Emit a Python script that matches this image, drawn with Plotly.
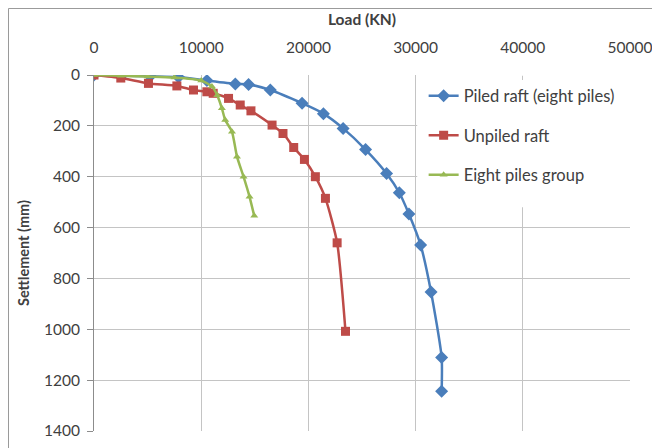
import plotly.graph_objects as go

# Data (Load in kN, Settlement in mm)
piled_load = [0, 2590, 5230, 7880, 10530, 13180, 14420, 16450, 19410, 21400, 23240, 25330, 27290, 28480, 29380, 30470, 31440, 32430, 32430]
piled_settle = [0, 2, 5, 8, 22, 35, 37, 59, 111, 152, 210, 293, 387, 463, 547, 669, 853, 1111, 1244]

unpiled_load = [0, 2500, 5080, 7730, 9280, 10530, 11120, 12550, 13640, 14640, 16610, 17630, 18630, 19630, 20650, 21590, 22680, 23460]
unpiled_settle = [0, 12, 33, 43, 59, 66, 72, 92, 118, 141, 197, 230, 285, 332, 400, 485, 660, 1008]

group_load = [0, 2500, 5000, 7500, 10000, 11000, 11500, 11930, 12240, 12870, 13340, 13950, 14510, 14950]
group_settle = [0, 3, 6, 10, 22, 45, 80, 131, 177, 223, 321, 400, 479, 554]

names = ["Piled raft (eight piles)", "Unpiled raft", "Eight piles group"]
colors = ["#4A7EBB", "#BE4B48", "#98B954"]
symbols = ["diamond", "square", "triangle-up"]
sizes = [10, 9, 7]

x_ticks = [0, 10000, 20000, 30000, 40000, 50000]
y_ticks = [0, 200, 400, 600, 800, 1000, 1200, 1400]

fig = go.Figure()
series = [(piled_load, piled_settle), (unpiled_load, unpiled_settle), (group_load, group_settle)]
for i, (xs, ys) in enumerate(series):
    fig.add_trace(go.Scatter(
        x=xs, y=ys, mode="lines+markers", name=names[i], legendgroup=names[i],
        line=dict(color=colors[i], width=2.5, shape="spline", smoothing=0.6),
        marker=dict(color=colors[i], symbol=symbols[i], size=sizes[i]),
    ))

# white patches behind legend hiding gridlines (as in original)
fig.add_shape(type="rect", xref="x", yref="y", x0=30150, x1=52000, y0=20, y1=520,
              fillcolor="white", line=dict(width=0), layer="between")
fig.add_shape(type="rect", xref="x", yref="y", x0=30150, x1=52000, y0=-10, y1=3,
              fillcolor="white", line=dict(width=0), layer="between")
# outer chart border
fig.add_shape(type="rect", xref="paper", yref="paper", x0=-0.1595, x1=1.3, y0=-0.2, y1=1.1868,
              line=dict(color="#9a9a9a", width=1), fillcolor="rgba(0,0,0,0)")

font_family = "Lato, 'Open Sans', sans-serif"
fig.update_layout(
    width=660, height=448,
    margin=dict(l=86, r=38, t=67, b=25),
    paper_bgcolor="white", plot_bgcolor="white",
    font=dict(family=font_family, size=15.5, color="#404040"),
    showlegend=True,
    legend=dict(x=0.615, y=0.99, xanchor="left", yanchor="top", bgcolor="rgba(0,0,0,0)",
                font=dict(size=16.5, color="#404040"), tracegroupgap=15),
    xaxis=dict(side="top", range=[0, 50000], tickvals=x_ticks, ticktext=[str(v) for v in x_ticks],
               showgrid=True, gridcolor="#c4c4c4", gridwidth=1, zeroline=False, automargin=False,
               showline=False, ticks="", ticklabelstandoff=18,
               tickfont=dict(size=15.5, color="#404040"),
               title=dict(text="<b>Load (KN)</b>", font=dict(size=15.5, color="#404040"), standoff=8)),
    yaxis=dict(range=[1400, 0], tickvals=y_ticks, ticktext=[str(v) for v in y_ticks],
               showgrid=True, gridcolor="#c4c4c4", gridwidth=1, zeroline=False, automargin=False,
               showline=True, linecolor="#8c8c8c", linewidth=1,
               ticks="outside", ticklen=6, tickcolor="#8c8c8c", ticklabelstandoff=4,
               tickfont=dict(size=15.5, color="#404040"),
               title=dict(text="<b>Settlement (mm)</b>", font=dict(size=14.5, color="#404040"), standoff=10)),
)

fig.write_html("out.html")
